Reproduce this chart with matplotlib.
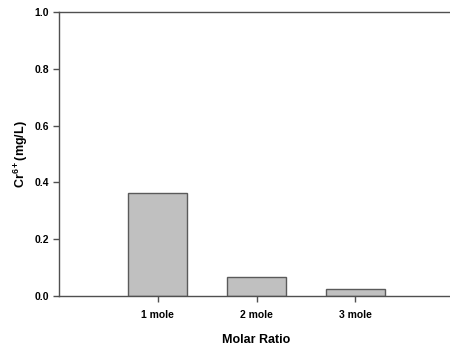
import matplotlib as mpl
import matplotlib.pyplot as plt

# data
categories = ['1 mole', '2 mole', '3 mole']
positions = [1, 2, 3]
cr6 = [0.363, 0.067, 0.025]

yTicks = [0.0, 0.2, 0.4, 0.6, 0.8, 1.0]


def generateFigure():
    mpl.rcParams['font.family'] = ['Liberation Sans', 'DejaVu Sans']
    mpl.rcParams['font.weight'] = 'bold'
    mpl.rcParams['axes.linewidth'] = 1.0
    mpl.rcParams['mathtext.fontset'] = 'custom'
    mpl.rcParams['mathtext.rm'] = 'Liberation Sans:bold'
    mpl.rcParams['mathtext.bf'] = 'Liberation Sans:bold'
    mpl.rcParams['mathtext.default'] = 'bf'

    fig = plt.figure(figsize=(4.5, 3.45), dpi=100)
    # axes runs slightly past the right edge of the figure, like the original
    ax = fig.add_axes([59/450., 1 - 296/345., (454 - 59)/450., (296 - 12)/345.])

    ax.bar(positions, cr6, width=0.6, color='#c0c0c0', edgecolor='#5a5a5a',
           linewidth=1.0)

    ax.set_xlim(0, 4)
    ax.set_ylim(0, 1.0)
    ax.set_xticks(positions)
    ax.set_xticklabels(categories)
    ax.set_yticks(yTicks)
    ax.set_yticklabels(['%.1f' % v for v in yTicks])

    for s in ('left', 'bottom', 'top'):
        ax.spines[s].set_color('#505050')
    ax.spines['right'].set_visible(False)

    ax.tick_params(axis='both', direction='out', length=4, width=1.0,
                   color='#505050', labelsize=7.5)
    ax.tick_params(axis='x', pad=6)
    ax.tick_params(axis='y', pad=3)

    ax.set_xlabel('Molar Ratio', fontsize=9, fontweight='bold', labelpad=10)
    ax.set_ylabel(r'Cr$^{6+}$(mg/L)', fontsize=9, fontweight='bold',
                  labelpad=3)

    fig.savefig('out.png', dpi=100)


def main():
    generateFigure()


main()
